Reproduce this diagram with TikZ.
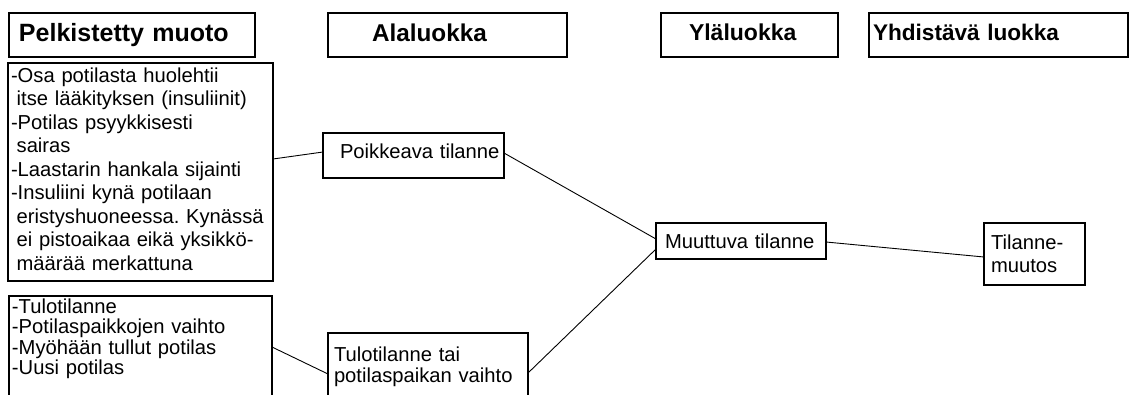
\documentclass[tikz,border=0pt]{standalone}
\usepackage{fontspec}
\setmainfont{Liberation Sans}
\frenchspacing
\newcommand{\ind}{\hspace*{0.28em}}
\begin{document}
\begin{tikzpicture}[x=1pt,y=-1pt,
  box/.style={draw,line width=1.5pt,outer sep=0pt,inner xsep=3pt,inner ysep=2pt,anchor=north west,align=left},
  bodyfont/.style={font=\fontsize{20.2}{23.5}\selectfont},
  link/.style={line width=0.9pt}]
\useasboundingbox (0,0) rectangle (1132,394);
\fill[white] (0,0) rectangle (1132,394);
\clip (0,0) rectangle (1132,394);
% headers
\node[box,minimum width=246pt,minimum height=44pt,text width=240pt,text depth=5pt,font=\fontsize{25}{30}\selectfont\bfseries] (h1) at (9,13) {\hspace*{7pt}Pelkistetty muoto};
\node[box,minimum width=239pt,minimum height=44pt,text width=233pt,text depth=5pt,font=\fontsize{24.3}{29}\selectfont\bfseries] (h2) at (328,13) {\hspace*{41pt}Alaluokka};
\node[box,minimum width=177pt,minimum height=44pt,text width=171pt,text depth=5pt,font=\fontsize{23}{28}\selectfont\bfseries] (h3) at (661,13) {\hspace*{25pt}Yläluokka};
\node[box,minimum width=259pt,minimum height=44pt,text width=253pt,text depth=5pt,font=\fontsize{22.6}{27}\selectfont\bfseries] (h4) at (869,13) {\hspace*{1pt}Yhdistävä luokka};
% body boxes
\node[box,bodyfont,minimum width=265pt,minimum height=218pt,text width=259pt] (b1) at (8,63)
 {-Osa potilasta huolehtii\\
  \ind itse lääkityksen (insuliinit)\\
  -Potilas psyykkisesti\\
  \ind sairas\\
  -Laastarin hankala sijainti\\
  -Insuliini kynä potilaan\\
  \ind eristyshuoneessa. Kynässä\\
  \ind ei pistoaikaa eikä yksikkö-\\
  \ind määrää merkattuna\rule[-6pt]{0pt}{0pt}};
\node[box,font=\fontsize{20.2}{20.5}\selectfont,minimum width=263pt,text width=257pt,inner ysep=2.5pt] (b2) at (9,296)
 {-Tulotilanne\\
  -Potilaspaikkojen vaihto\\
  -Myöhään tullut potilas\\
  -Uusi potilas\rule[-40pt]{0pt}{0pt}};
\node[box,bodyfont,minimum width=181pt,minimum height=45pt,text width=175pt,text depth=8pt] (poik) at (323,133) {\hspace*{14pt}Poikkeava tilanne};
\node[box,font=\fontsize{20.2}{21}\selectfont,minimum width=200pt,text width=194pt,inner ysep=13.5pt] (tulo) at (328,333)
 {\hspace*{3pt}Tulotilanne tai\\
  \hspace*{3pt}potilaspaikan vaihto\rule[-40pt]{0pt}{0pt}};
\node[box,bodyfont,minimum width=170pt,minimum height=36pt,text width=164pt] (mu) at (656,223) {\hspace*{6pt}Muuttuva tilanne};
\node[box,font=\fontsize{20.2}{22.7}\selectfont,minimum width=101pt,minimum height=62pt,text width=95pt] (til) at (984,223) {\hspace*{4pt}Tilanne-\\ \hspace*{4pt}muutos};
% connectors
\draw[link] ([yshift=13pt]b1.east) -- ([yshift=3.5pt]poik.west);
\draw[link] ([yshift=-51pt]b2.north east) -- ([yshift=-41pt]tulo.north west);
\draw[link] ([yshift=2.5pt]poik.east) -- ([yshift=2pt]mu.west);
\draw[link] ([yshift=-40pt]tulo.north east) -- ([yshift=-8pt]mu.west);
\draw[link] ([yshift=-1pt]mu.east) -- ([yshift=-3pt]til.west);
\end{tikzpicture}
\end{document}
